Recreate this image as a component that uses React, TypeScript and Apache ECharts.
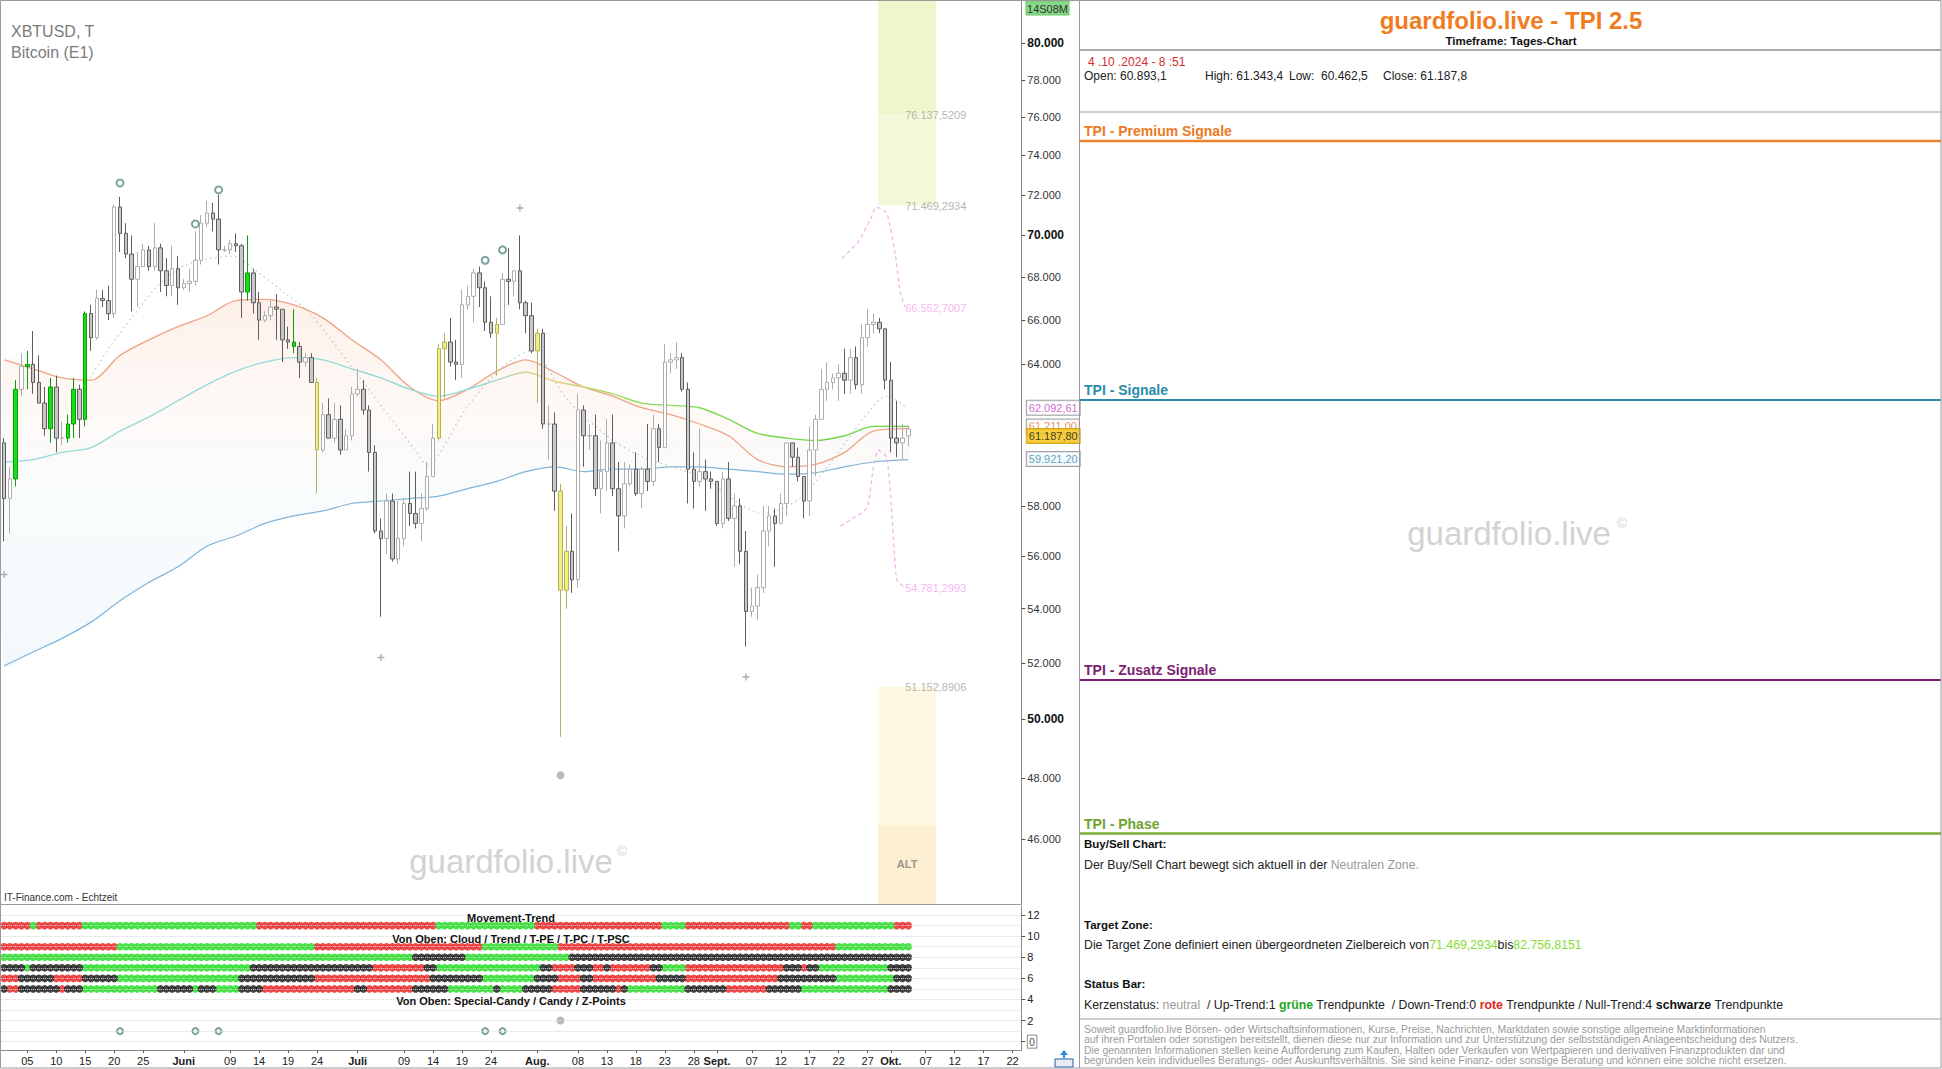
import React, { useEffect, useRef } from "react";
import * as echarts from "echarts";

const FONT = "'Liberation Sans', Arial, Helvetica, sans-serif";

// ---- Daily candles XBTUSD, 01.05.2024 (index 0) – 04.10.2024 (index 156), in thousand USD ----
const OPEN = [
  60.6, 58.3, 59.1, 62.9, 63.9, 64.0, 63.2, 62.3, 61.2, 63.0,
  60.8, 60.8, 61.4, 62.9, 61.6, 66.3, 65.2, 67.0, 66.9, 66.3,
  71.4, 70.1, 69.1, 67.9, 68.5, 69.3, 68.5, 69.4, 68.3, 67.6,
  68.4, 67.5, 67.7, 67.8, 68.8, 70.6, 71.1, 70.8, 69.3, 69.3,
  69.6, 69.5, 67.3, 68.2, 66.8, 66.0, 66.2, 66.6, 66.5, 65.1,
  65.0, 64.8, 64.1, 64.3, 63.2, 60.3, 61.8, 60.8, 61.6, 60.3,
  60.9, 62.7, 62.9, 62.0, 60.2, 57.0, 56.7, 58.2, 55.9, 56.7,
  58.1, 57.7, 57.3, 57.9, 59.2, 60.8, 64.7, 65.0, 64.1, 64.0,
  66.7, 67.1, 68.2, 67.5, 65.9, 65.4, 65.8, 67.9, 67.8, 68.3,
  66.8, 66.2, 64.6, 65.4, 61.4, 61.4, 58.6, 54.7, 56.2, 55.1,
  62.0, 60.9, 60.9, 58.7, 59.4, 60.6, 58.7, 57.6, 58.9, 59.5,
  58.5, 59.5, 59.0, 61.2, 60.4, 64.1, 64.2, 64.3, 62.9, 59.5,
  59.0, 59.4, 59.1, 59.0, 57.3, 59.1, 57.5, 58.0, 56.2, 53.9,
  54.1, 54.8, 57.0, 57.6, 57.3, 58.1, 60.6, 60.0, 59.2, 58.2,
  60.3, 61.6, 62.9, 63.2, 63.4, 63.6, 63.3, 64.3, 63.1, 65.2,
  65.8, 65.9, 65.6, 63.3, 60.8, 60.6, 60.893,
];
const CLOSE = [
  58.3, 59.1, 62.9, 63.9, 64.0, 63.2, 62.3, 61.2, 63.0, 60.8,
  60.8, 61.4, 62.9, 61.6, 66.3, 65.2, 67.0, 66.9, 66.3, 71.4,
  70.1, 69.1, 67.9, 68.5, 69.3, 68.5, 69.4, 68.3, 67.6, 68.4,
  67.5, 67.7, 67.8, 68.8, 70.6, 71.1, 70.8, 69.3, 69.3, 69.6,
  69.5, 67.3, 68.2, 66.8, 66.0, 66.2, 66.6, 66.5, 65.1, 65.0,
  64.8, 64.1, 64.3, 63.2, 60.3, 61.8, 60.8, 61.6, 60.3, 60.9,
  62.7, 62.9, 62.0, 60.2, 57.0, 56.7, 58.2, 55.9, 56.7, 58.1,
  57.7, 57.3, 57.9, 59.2, 60.8, 64.7, 65.0, 64.1, 64.0, 66.7,
  67.1, 68.2, 67.5, 65.9, 65.4, 65.8, 67.9, 67.8, 68.3, 66.8,
  66.2, 64.6, 65.4, 61.4, 61.4, 58.6, 54.7, 56.2, 55.1, 62.0,
  60.9, 60.9, 58.7, 59.4, 60.6, 58.7, 57.6, 58.9, 59.5, 58.5,
  59.5, 59.0, 61.2, 60.4, 64.1, 64.2, 64.3, 62.9, 59.5, 59.0,
  59.4, 59.1, 59.0, 57.3, 59.1, 57.5, 58.0, 56.2, 53.9, 54.1,
  54.8, 57.0, 57.6, 57.3, 58.1, 60.6, 60.0, 59.2, 58.2, 60.3,
  61.6, 62.9, 63.2, 63.4, 63.6, 63.3, 64.3, 63.1, 65.2, 65.8,
  65.9, 65.6, 63.3, 60.8, 60.6, 60.8, 61.188,
];
const HIGH = [
  60.8, 59.6, 63.3, 64.5, 64.6, 65.5, 64.4, 63.0, 63.4, 63.5,
  61.5, 61.8, 63.4, 63.1, 66.4, 66.7, 67.4, 67.4, 67.6, 71.5,
  71.9, 70.6, 70.0, 69.2, 69.6, 69.5, 70.6, 69.6, 68.9, 69.5,
  69.0, 67.9, 68.4, 70.2, 71.0, 71.7, 71.6, 72.0, 69.5, 69.8,
  70.1, 69.6, 70.0, 68.4, 67.3, 66.4, 66.9, 67.2, 66.5, 65.7,
  66.5, 65.0, 64.5, 64.5, 63.4, 62.3, 62.5, 62.3, 62.2, 61.2,
  63.0, 63.8, 63.3, 62.2, 60.5, 57.5, 58.5, 58.5, 58.2, 58.3,
  59.4, 59.4, 58.5, 59.8, 61.4, 64.9, 65.4, 66.1, 65.1, 67.4,
  67.6, 68.4, 68.5, 67.8, 67.1, 66.1, 68.2, 69.4, 68.3, 70.0,
  66.9, 66.8, 65.6, 65.6, 62.2, 61.9, 58.9, 57.2, 57.7, 62.7,
  62.2, 61.4, 61.8, 60.7, 61.6, 61.8, 59.8, 59.8, 59.7, 60.2,
  59.6, 61.4, 61.8, 61.4, 64.9, 64.5, 65.0, 64.5, 63.2, 60.2,
  61.2, 59.9, 59.4, 59.0, 59.4, 59.8, 58.5, 58.3, 57.0, 54.8,
  55.3, 58.0, 58.0, 57.9, 58.5, 60.6, 60.6, 60.4, 59.2, 61.3,
  61.8, 63.8, 64.1, 63.6, 64.0, 64.7, 64.7, 64.8, 65.8, 66.5,
  66.3, 66.1, 65.6, 64.1, 62.4, 61.4, 61.343,
];
const LOW = [
  56.6, 56.9, 58.8, 62.6, 62.9, 62.7, 62.3, 60.9, 60.6, 60.2,
  60.5, 60.6, 60.8, 60.8, 61.3, 64.6, 65.1, 66.6, 66.0, 66.1,
  69.2, 68.9, 66.4, 66.6, 68.5, 68.3, 68.3, 67.3, 67.1, 67.1,
  66.7, 67.4, 67.3, 67.6, 68.6, 70.4, 70.2, 68.6, 69.2, 69.1,
  69.2, 66.1, 66.9, 66.3, 65.1, 65.9, 66.0, 65.1, 64.1, 64.7,
  64.5, 63.4, 63.9, 63.2, 58.5, 60.2, 60.8, 60.6, 60.1, 60.3,
  60.7, 62.6, 61.8, 59.4, 56.9, 53.7, 56.1, 55.8, 55.7, 56.4,
  57.2, 57.1, 56.6, 57.8, 59.2, 60.7, 62.5, 63.9, 63.3, 63.4,
  66.5, 65.9, 66.6, 65.5, 65.2, 63.5, 65.8, 66.7, 67.1, 66.5,
  65.4, 64.5, 62.3, 61.2, 59.9, 57.8, 49.4, 54.0, 54.6, 54.8,
  59.6, 60.3, 58.4, 57.7, 58.6, 58.4, 56.2, 57.1, 58.8, 58.4,
  57.9, 58.6, 58.8, 59.8, 60.4, 63.6, 63.8, 62.8, 58.1, 57.9,
  58.8, 57.8, 58.7, 57.2, 57.1, 57.4, 55.6, 55.7, 52.6, 53.7,
  53.6, 54.6, 56.4, 55.6, 57.3, 57.6, 59.6, 59.0, 57.5, 57.6,
  59.2, 61.6, 62.4, 62.9, 62.4, 62.7, 62.7, 62.9, 62.7, 64.8,
  65.4, 65.4, 62.9, 60.2, 60.0, 59.9, 60.463,
];
const GREEN_DAYS = [2, 4, 8, 11, 12, 14, 42, 50];
const YELLOW_DAYS = [54, 75, 76, 85, 92, 96, 97];

// ---- Moving-average ribbon ----
const RIB_DAYS = [0, 5, 10, 15, 20, 25, 30, 35, 40, 45, 50, 55, 60, 65, 70, 75, 80, 85, 90, 95, 100, 105, 110, 115, 120, 125, 130, 135, 140, 145, 150, 156];
const RIB_FAST = [64.2, 63.8, 63.4, 63.3, 64.4, 65.1, 65.7, 66.2, 66.9, 66.96, 66.7, 66.1, 65.1, 64.2, 63.0, 62.4, 62.9, 63.7, 64.2, 63.65, 63.0, 62.6, 62.1, 61.8, 61.4, 60.9, 59.9, 59.6, 59.7, 60.2, 61.1, 61.2];
const RIB_MID = [59.8, 59.9, 60.2, 60.4, 61.1, 61.7, 62.4, 63.1, 63.7, 64.1, 64.3, 64.2, 63.8, 63.4, 62.9, 62.6, 62.9, 63.3, 63.65, 63.25, 63.0, 62.7, 62.3, 62.2, 62.1, 61.6, 61.0, 60.8, 60.7, 60.9, 61.3, 61.3];
const RIB_SLOW = [51.9, 52.4, 52.9, 53.5, 54.3, 55.0, 55.6, 56.4, 56.8, 57.3, 57.6, 57.8, 58.1, 58.2, 58.3, 58.4, 58.7, 59.0, 59.4, 59.6, 59.4, 59.5, 59.5, 59.6, 59.6, 59.5, 59.4, 59.3, 59.35, 59.6, 59.8, 59.9];

// gray dotted curve
const DOT_DAYS = [14.8, 18.3, 22.3, 26.9, 31.5, 39.5, 43, 48.2, 52.8, 62.6, 71.2, 72.9, 79.8, 85.6, 91, 97, 104.5, 110.3, 120, 131, 137.3, 143, 148.8, 152.3, 155.7];
const DOT_VALS = [63.4, 64.8, 66.2, 67.7, 68.6, 69.0, 68.4, 67.3, 66.3, 63.0, 60.2, 59.7, 62.1, 63.8, 64.6, 62.5, 60.8, 60.0, 59.2, 57.7, 58.3, 59.9, 61.8, 62.6, 62.1];

// pink projections
const PROJ_UP_DAYS = [144.6, 147.4, 149.5, 150.5, 152.3, 153.7, 154.6, 155.4];
const PROJ_UP_VALS = [68.9, 69.7, 70.8, 71.4, 71.1, 69.2, 67.3, 66.6];
const PROJ_DN_DAYS = [144.3, 148.8, 150.0, 150.8, 152.3, 153.1, 154.0, 155.4];
const PROJ_DN_VALS = [57.2, 57.9, 59.6, 60.3, 60.0, 57.9, 55.1, 54.8];

// markers on the price chart
const RING_DAYS = [20, 33, 37, 83, 86];
const RING_VALS = [72.6, 70.56, 72.25, 68.8, 69.3];
const CROSS_DAYS = [0, 65, 89, 128];
const CROSS_VALS = [55.3, 52.2, 71.35, 51.5];
const ZPOINT_DAYS = [96];
const ZPOINT_VALS = [48.1];

// target zones and level labels
const ZONE_TOP = 82.7568151;
const ZONE_MID = 76.1375209;
const ZONE_LOW = 71.4692934;
const ALT_TOP = 51.1528906;
const ALT_MID = 46.47;
const LEVEL_VALUES = [76.1375209, 71.4692934, 66.5527007, 54.7812993, 51.1528906];
const LEVEL_TEXTS = ["76.137,5209", "71.469,2934", "66.552,7007", "54.781,2993", "51.152,8906"];
const LEVEL_COLORS = ["#a2a2a2", "#a2a2a2", "#f2a4ea", "#f2a4ea", "#a2a2a2"];

// value boxes on the price axis
const BOX_VALUES = [62.09261, 61.211, 59.9212, 61.1878];
const BOX_TEXTS = ["62.092,61", "61.211,00", "59.921,20", "61.187,80"];

// axis ticks
const PRICE_TICKS = [80, 78, 76, 74, 72, 70, 68, 66, 64, 58, 56, 54, 52, 50, 48, 46];
const BOLD_TICKS = [80, 70, 50];
const X_TICK_DAYS = [4, 9, 14, 19, 24, 31, 39, 44, 49, 54, 61, 69, 74, 79, 84, 92, 99, 104, 109, 114, 119, 123, 129, 134, 139, 144, 149, 153, 159, 164, 169, 174];
const X_TICK_LABELS = ["05", "10", "15", "20", "25", "Juni", "09", "14", "19", "24", "Juli", "09", "14", "19", "24", "Aug.", "08", "13", "18", "23", "28", "Sept.", "07", "12", "17", "22", "27", "Okt.", "07", "12", "17", "22"];
const MONTH_LABELS = ["Juni", "Juli", "Aug.", "Sept.", "Okt."];
const IND_TICKS = [0, 2, 4, 6, 8, 10, 12];

// indicator rows (run lengths: r = red, g = green, k = black)
const ROW_MOVEMENT: [string, number][] = [["r", 5], ["g", 1], ["r", 8], ["g", 30], ["r", 31], ["g", 17], ["r", 22], ["g", 4], ["r", 18], ["g", 2], ["r", 2], ["g", 14], ["r", 3]];
const ROW_CLOUD: [string, number][] = [["r", 20], ["g", 34], ["r", 29], ["g", 13], ["r", 48], ["g", 13]];
const ROW_TREND: [string, number][] = [["g", 71], ["k", 9], ["g", 18], ["k", 59]];
const ROW_TPE: [string, number][] = [["k", 4], ["g", 1], ["k", 9], ["g", 29], ["k", 21], ["r", 9], ["k", 2], ["g", 18], ["k", 2], ["r", 4], ["k", 3], ["r", 2], ["k", 1], ["r", 7], ["k", 2], ["g", 4], ["r", 17], ["k", 3], ["r", 1], ["k", 2], ["g", 12], ["k", 4]];
const ROW_TPC: [string, number][] = [["r", 3], ["k", 6], ["r", 5], ["k", 6], ["g", 21], ["k", 13], ["r", 20], ["k", 9], ["g", 9], ["k", 4], ["r", 4], ["k", 2], ["r", 11], ["k", 5], ["r", 16], ["k", 10], ["g", 10], ["k", 3]];
const ROW_TPSC: [string, number][] = [["k", 1], ["r", 2], ["k", 7], ["r", 1], ["k", 3], ["g", 13], ["k", 6], ["g", 1], ["k", 3], ["g", 4], ["k", 4], ["r", 16], ["k", 2], ["r", 8], ["k", 6], ["g", 8], ["k", 1], ["g", 4], ["k", 5], ["r", 5], ["k", 6], ["r", 1], ["k", 1], ["g", 10], ["k", 7], ["r", 7], ["k", 6], ["g", 15], ["k", 4]];
const ROW_LEVELS = [11, 9, 8, 7, 6, 5];
const CANDY_DAYS = [20, 33, 37, 83, 86];
const ZP_IND_DAYS = [96];

// ---- layout constants ----
const L = (p: number) => Math.log(p);
const Y_MIN = L(43.98);
const Y_MAX = L(82.39);
const X_MIN = -0.5;
const X_MAX = 175.5;
const GRID_LEFT = 1.2;
const GRID_W = 1020.1;
const ZONE_X0 = 150.8;
const ZONE_X1 = 160.8;
const LEVEL_X = 155.37;
const BODY_FS = 12.3;

const GREEN_STYLE = { color: "#17df17", color0: "#17df17", borderColor: "#0b9b0b", borderColor0: "#0b9b0b", borderWidth: 1 };
const YELLOW_STYLE = { color: "#f3ef7e", color0: "#f3ef7e", borderColor: "#b3b05a", borderColor0: "#b3b05a", borderWidth: 1 };

function expandRows() {
  const out: Record<string, number[][]> = { r: [], g: [], k: [] };
  const rows = [ROW_MOVEMENT, ROW_CLOUD, ROW_TREND, ROW_TPE, ROW_TPC, ROW_TPSC];
  rows.forEach((row, ri) => {
    let d = 0;
    row.forEach(([c, n]) => {
      for (let i = 0; i < n; i++) {
        out[c].push([d, ROW_LEVELS[ri]]);
        d++;
      }
    });
  });
  return out;
}

function txt(x: number, y: number, text: string, st: any = {}, z = 50) {
  return {
    type: "text",
    x,
    y,
    z,
    silent: true,
    style: { text, fill: "#222", fontSize: 11, fontFamily: FONT, align: "left", verticalAlign: "middle", ...st },
  };
}
function hl(x1: number, y1: number, x2: number, y2: number, stroke: string, lineWidth = 1, z = 40) {
  return { type: "line", z, silent: true, shape: { x1, y1, x2, y2 }, style: { stroke, lineWidth } };
}

function buildGraphic() {
  const g: any[] = [];
  // frames
  g.push({ type: "rect", z: 60, silent: true, shape: { x: 0.5, y: 0.5, width: 1079, height: 1067.5 }, style: { fill: "none", stroke: "#9a9a9a", lineWidth: 1 } });
  g.push({ type: "rect", z: 60, silent: true, shape: { x: 1079.5, y: 0.5, width: 861.5, height: 1067.5 }, style: { fill: "none", stroke: "#9a9a9a", lineWidth: 1 } });
  g.push(hl(0, 904.5, 1022, 904.5, "#9a9a9a", 1));

  // left chart texts
  g.push(txt(11, 31, "XBTUSD, T", { fill: "#7b7b7b", fontSize: 16 }));
  g.push(txt(11, 52, "Bitcoin (E1)", { fill: "#7b7b7b", fontSize: 16 }));
  g.push(txt(4, 897, "IT-Finance.com - Echtzeit", { fill: "#333", fontSize: 10 }));
  g.push(txt(511, 861, "guardfolio.live", { fill: "#d3d3d3", fontSize: 33, align: "center" }, 5));
  g.push(txt(622, 851, "©", { fill: "#d3d3d3", fontSize: 14, align: "center" }, 5));
  g.push(txt(511, 917.7, "Movement-Trend", { fill: "#111", fontWeight: "bold", align: "center" }));
  g.push(txt(511, 939, "Von Oben: Cloud / Trend / T-PE / T-PC / T-PSC", { fill: "#111", fontWeight: "bold", align: "center" }));
  g.push(txt(511, 1001, "Von Oben: Special-Candy / Candy / Z-Points", { fill: "#111", fontWeight: "bold", align: "center" }));

  // 14S08M box
  g.push({ type: "rect", z: 55, silent: true, shape: { x: 1026, y: 1, width: 43, height: 14 }, style: { fill: "#86d986", stroke: "#6cc46c", lineWidth: 1 } });
  g.push(txt(1047.5, 8.5, "14S08M", { fill: "#333", fontSize: 11, align: "center" }, 56));

  // little icon bottom right of the chart
  g.push({ type: "rect", z: 55, silent: true, shape: { x: 1055, y: 1059, width: 18, height: 8 }, style: { fill: "#e8eef8", stroke: "#1f5fa5", lineWidth: 1 } });
  g.push({ type: "polygon", z: 55, silent: true, shape: { points: [[1064, 1050], [1060, 1055], [1063, 1055], [1063, 1058], [1065, 1058], [1065, 1055], [1068, 1055]] }, style: { fill: "#2a8ad8" } });

  // right panel
  g.push(txt(1511, 20, "guardfolio.live - TPI 2.5", { fill: "#f07c22", fontSize: 24, fontWeight: "bold", align: "center" }));
  g.push(txt(1511, 41, "Timeframe: Tages-Chart", { fill: "#111", fontSize: 11.5, fontWeight: "bold", align: "center" }));
  g.push(hl(1080, 50, 1941, 50, "#a9a9a9", 2));
  g.push(txt(1088, 61.5, "4 .10 .2024 - 8 :51", { fill: "#d42b2b", fontSize: 12 }));
  g.push(txt(1084, 76, "Open: 60.893,1", { fill: "#222", fontSize: 12 }));
  g.push(txt(1205, 76, "High: 61.343,4", { fill: "#222", fontSize: 12 }));
  g.push(txt(1289, 76, "Low:  60.462,5", { fill: "#222", fontSize: 12 }));
  g.push(txt(1383, 76, "Close: 61.187,8", { fill: "#222", fontSize: 12 }));
  g.push(hl(1080, 112, 1941, 112, "#bdbdbd", 1.5));

  g.push(txt(1084, 130.5, "TPI - Premium Signale", { fill: "#ec7a22", fontSize: 14, fontWeight: "bold" }));
  g.push(hl(1080, 141, 1941, 141, "#ee8229", 2.5));
  g.push(txt(1084, 390, "TPI - Signale", { fill: "#2a8ca8", fontSize: 14, fontWeight: "bold" }));
  g.push(hl(1080, 400, 1941, 400, "#2a8ca8", 2));
  g.push(txt(1084, 670, "TPI - Zusatz Signale", { fill: "#7b1f70", fontSize: 14, fontWeight: "bold" }));
  g.push(hl(1080, 680, 1941, 680, "#7b1f70", 2));
  g.push(txt(1084, 823.5, "TPI - Phase", { fill: "#6fa32c", fontSize: 14, fontWeight: "bold" }));
  g.push(hl(1080, 833.5, 1941, 833.5, "#79ad36", 2.5));

  g.push(txt(1509, 533, "guardfolio.live", { fill: "#d3d3d3", fontSize: 33, align: "center" }, 5));
  g.push(txt(1622, 523, "©", { fill: "#d3d3d3", fontSize: 14, align: "center" }, 5));

  g.push(txt(1084, 843.5, "Buy/Sell Chart:", { fill: "#111", fontSize: 11.5, fontWeight: "bold" }));
  g.push(
    txt(1084, 864.5, "{n|Der Buy/Sell Chart bewegt sich aktuell in der }{gr|Neutralen Zone.}", {
      fontSize: BODY_FS,
      rich: {
        n: { fill: "#222", fontSize: BODY_FS, fontFamily: FONT },
        gr: { fill: "#9a9a9a", fontSize: BODY_FS, fontFamily: FONT },
      },
    })
  );
  g.push(txt(1084, 925, "Target Zone:", { fill: "#111", fontSize: 11.5, fontWeight: "bold" }));
  g.push(
    txt(1084, 944.5, "{n|Die Target Zone definiert einen übergeordneten Zielbereich von}{g|71.469,2934}{n|bis}{g|82.756,8151}", {
      fontSize: BODY_FS,
      rich: {
        n: { fill: "#222", fontSize: BODY_FS, fontFamily: FONT },
        g: { fill: "#86dc34", fontSize: BODY_FS, fontFamily: FONT },
      },
    })
  );
  g.push(txt(1084, 983.5, "Status Bar:", { fill: "#111", fontSize: 11.5, fontWeight: "bold" }));
  g.push(
    txt(
      1084,
      1004.5,
      "{n|Kerzenstatus: }{gr|neutral}{n|  / Up-Trend:1 }{g|grüne}{n| Trendpunkte  / Down-Trend:0 }{r|rote}{n| Trendpunkte / Null-Trend:4 }{k|schwarze}{n| Trendpunkte}",
      {
        fontSize: BODY_FS,
        rich: {
          n: { fill: "#222", fontSize: BODY_FS, fontFamily: FONT },
          gr: { fill: "#9a9a9a", fontSize: BODY_FS, fontFamily: FONT },
          g: { fill: "#1fa51f", fontSize: BODY_FS, fontWeight: "bold", fontFamily: FONT },
          r: { fill: "#e02222", fontSize: BODY_FS, fontWeight: "bold", fontFamily: FONT },
          k: { fill: "#111", fontSize: BODY_FS, fontWeight: "bold", fontFamily: FONT },
        },
      }
    )
  );
  g.push(hl(1080, 1019, 1941, 1019, "#bdbdbd", 1.5));
  const disc = [
    "Soweit guardfolio.live Börsen- oder Wirtschaftsinformationen, Kurse, Preise, Nachrichten, Marktdaten sowie sonstige allgemeine Marktinformationen",
    "auf ihren Portalen oder sonstigen bereitstellt, dienen diese nur zur Information und zur Unterstützung der selbstständigen Anlageentscheidung des Nutzers.",
    "Die genannten Informationen stellen keine Aufforderung zum Kaufen, Halten oder Verkaufen von Wertpapieren und derivativen Finanzprodukten dar und",
    "begründen kein individuelles Beratungs- oder Auskunftsverhältnis. Sie sind keine Finanz- oder sonstige Beratung und können eine solche nicht ersetzen.",
  ];
  const discY = [1029.5, 1039.8, 1050, 1060.3];
  disc.forEach((t, i) => g.push(txt(1084, discY[i], t, { fill: "#9a9a9a", fontSize: 10.4 })));
  return g;
}

function buildOption() {
  const candleData = CLOSE.map((c, i) => {
    const item: any = { value: [i, L(OPEN[i]), L(c), L(LOW[i]), L(HIGH[i])] };
    if (GREEN_DAYS.includes(i)) item.itemStyle = GREEN_STYLE;
    else if (YELLOW_DAYS.includes(i)) item.itemStyle = YELLOW_STYLE;
    return item;
  });
  const dots = expandRows();

  const ribbonFill = new echarts.graphic.LinearGradient(0, 0, 0, 1, [
    { offset: 0, color: "rgba(252,226,212,0.55)" },
    { offset: 0.3, color: "rgba(252,240,234,0.4)" },
    { offset: 0.55, color: "rgba(238,247,248,0.4)" },
    { offset: 1, color: "rgba(226,238,248,0.4)" },
  ]);
  const midColor = new echarts.graphic.LinearGradient(0, 0, 1, 0, [
    { offset: 0, color: "#95dada" },
    { offset: 0.53, color: "#95dada" },
    { offset: 0.6, color: "#efcf7a" },
    { offset: 0.7, color: "#8ddc5a" },
    { offset: 1, color: "#62d642" },
  ]);

  const priceAxisLabels = PRICE_TICKS.map(L);

  return {
    animation: false,
    backgroundColor: "#ffffff",
    textStyle: { fontFamily: FONT },
    grid: [
      { left: GRID_LEFT, top: 1, width: GRID_W, height: 903 },
      { left: GRID_LEFT, top: 906, width: GRID_W, height: 144 },
    ],
    xAxis: [
      { gridIndex: 0, type: "value", min: X_MIN, max: X_MAX, show: false },
      {
        gridIndex: 1,
        type: "value",
        min: X_MIN,
        max: X_MAX,
        position: "bottom",
        axisLine: { show: true, onZero: false, lineStyle: { color: "#8a8a8a" } },
        axisTick: { show: true, customValues: X_TICK_DAYS, length: 3, lineStyle: { color: "#555" } },
        axisLabel: {
          show: true,
          customValues: X_TICK_DAYS,
          margin: 5,
          fontSize: 11,
          color: "#222",
          fontFamily: FONT,
          formatter: (v: number) => {
            const idx = X_TICK_DAYS.indexOf(Math.round(v));
            const t = idx >= 0 ? X_TICK_LABELS[idx] : "";
            return MONTH_LABELS.includes(t) ? `{m|${t}}` : t;
          },
          rich: { m: { fontWeight: "bold", fontSize: 11, color: "#222", fontFamily: FONT } },
        },
        splitLine: { show: false },
      },
    ],
    yAxis: [
      {
        gridIndex: 0,
        type: "value",
        min: Y_MIN,
        max: Y_MAX,
        position: "right",
        axisLine: { show: true, onZero: false, lineStyle: { color: "#8a8a8a" } },
        axisTick: { show: true, customValues: priceAxisLabels, length: 4, lineStyle: { color: "#555" } },
        axisLabel: {
          show: true,
          customValues: priceAxisLabels,
          margin: 6,
          formatter: (v: number) => {
            const p = Math.round(Math.exp(v));
            const s = `${p}.000`;
            return BOLD_TICKS.includes(p) ? `{b|${s}}` : `{n|${s}}`;
          },
          rich: {
            b: { fontWeight: "bold", fontSize: 12, color: "#111", fontFamily: FONT },
            n: { fontSize: 11, color: "#333", fontFamily: FONT },
          },
        },
        splitLine: { show: false },
      },
      {
        gridIndex: 1,
        type: "value",
        min: -0.79,
        max: 12.86,
        position: "right",
        axisLine: { show: true, onZero: false, lineStyle: { color: "#8a8a8a" } },
        axisTick: { show: true, customValues: IND_TICKS, length: 4, lineStyle: { color: "#555" } },
        axisLabel: {
          show: true,
          customValues: IND_TICKS,
          margin: 6,
          fontSize: 11,
          color: "#222",
          formatter: (v: number) => (Math.round(v) === 0 ? "{bx|0}" : String(Math.round(v))),
          rich: { bx: { borderColor: "#8a8a8a", borderWidth: 1, padding: [2, 2, 1, 2], color: "#444", fontSize: 10 } },
        },
        splitLine: { show: false },
      },
    ],
    series: [
      // ribbon fill
      {
        type: "custom",
        name: "ribbon",
        xAxisIndex: 0,
        yAxisIndex: 0,
        z: 1,
        silent: true,
        data: [[78, L(60)]],
        renderItem: (_params: any, api: any) => {
          const upper = RIB_DAYS.map((d, i) => api.coord([d, L(Math.max(RIB_FAST[i], RIB_MID[i]))]));
          const lower = RIB_DAYS.map((d, i) => api.coord([d, L(RIB_SLOW[i])])).reverse();
          return {
            type: "polygon",
            shape: { points: upper.concat(lower), smooth: 0.25 },
            style: { fill: ribbonFill },
          };
        },
      },
      {
        type: "line",
        name: "fast",
        xAxisIndex: 0,
        yAxisIndex: 0,
        z: 2,
        silent: true,
        showSymbol: false,
        smooth: 0.3,
        data: RIB_DAYS.map((d, i) => [d, L(RIB_FAST[i])]),
        lineStyle: { color: "#eea384", width: 1.3 },
      },
      {
        type: "line",
        name: "mid",
        xAxisIndex: 0,
        yAxisIndex: 0,
        z: 2,
        silent: true,
        showSymbol: false,
        smooth: 0.3,
        data: RIB_DAYS.map((d, i) => [d, L(RIB_MID[i])]),
        lineStyle: { color: midColor, width: 1.4 },
      },
      {
        type: "line",
        name: "slow",
        xAxisIndex: 0,
        yAxisIndex: 0,
        z: 2,
        silent: true,
        showSymbol: false,
        smooth: 0.3,
        data: RIB_DAYS.map((d, i) => [d, L(RIB_SLOW[i])]),
        lineStyle: { color: "#82b4d8", width: 1.2 },
      },
      {
        type: "line",
        name: "dotted",
        xAxisIndex: 0,
        yAxisIndex: 0,
        z: 2,
        silent: true,
        showSymbol: false,
        smooth: 0.3,
        data: DOT_DAYS.map((d, i) => [d, L(DOT_VALS[i])]),
        lineStyle: { color: "#c2c2c2", width: 1.2, type: [1.5, 3.5] },
      },
      {
        type: "line",
        name: "projUp",
        xAxisIndex: 0,
        yAxisIndex: 0,
        z: 2,
        silent: true,
        showSymbol: false,
        smooth: 0.15,
        data: PROJ_UP_DAYS.map((d, i) => [d, L(PROJ_UP_VALS[i])]),
        lineStyle: { color: "#f5b4ee", width: 1.3, type: [4, 3] },
      },
      {
        type: "line",
        name: "projDown",
        xAxisIndex: 0,
        yAxisIndex: 0,
        z: 2,
        silent: true,
        showSymbol: false,
        smooth: 0.15,
        data: PROJ_DN_DAYS.map((d, i) => [d, L(PROJ_DN_VALS[i])]),
        lineStyle: { color: "#f5b4ee", width: 1.3, type: [4, 3] },
      },
      // candles
      {
        type: "candlestick",
        name: "XBTUSD",
        xAxisIndex: 0,
        yAxisIndex: 0,
        z: 3,
        silent: true,
        barWidth: 4,
        data: candleData,
        itemStyle: { color: "#ffffff", color0: "#c8c8c8", borderColor: "#adadad", borderColor0: "#5e5e5e", borderWidth: 1 },
        markArea: {
          silent: true,
          label: { show: false },
          data: [
            [{ xAxis: ZONE_X0, yAxis: L(ZONE_MID), itemStyle: { color: "#eef7cb" } }, { xAxis: ZONE_X1, yAxis: Math.min(L(ZONE_TOP), Y_MAX) }],
            [{ xAxis: ZONE_X0, yAxis: L(ZONE_LOW), itemStyle: { color: "#f3f9d8" } }, { xAxis: ZONE_X1, yAxis: L(ZONE_MID) }],
            [{ xAxis: ZONE_X0, yAxis: L(ALT_TOP), itemStyle: { color: "#fff7e2" } }, { xAxis: ZONE_X1, yAxis: L(ALT_MID) }],
            [
              {
                xAxis: ZONE_X0,
                yAxis: L(ALT_MID),
                itemStyle: { color: "#fdefd2" },
                label: { show: true, position: "inside", formatter: "ALT", color: "#9c968c", fontWeight: "bold", fontSize: 11, fontFamily: FONT },
              },
              { xAxis: ZONE_X1, yAxis: Y_MIN },
            ],
          ],
        },
      },
      // rings
      {
        type: "scatter",
        name: "rings",
        xAxisIndex: 0,
        yAxisIndex: 0,
        z: 5,
        silent: true,
        symbol: "emptyCircle",
        symbolSize: 7,
        itemStyle: { color: "#5b8c86", borderColor: "#5b8c86", borderWidth: 2 },
        data: RING_DAYS.map((d, i) => [d, L(RING_VALS[i])]),
      },
      {
        type: "scatter",
        name: "crosses",
        xAxisIndex: 0,
        yAxisIndex: 0,
        z: 5,
        silent: true,
        symbol: "path://M4,0H6V4H10V6H6V10H4V6H0V4H4Z",
        symbolSize: 7,
        itemStyle: { color: "#9a9a9a" },
        data: CROSS_DAYS.map((d, i) => [d, L(CROSS_VALS[i])]),
      },
      {
        type: "scatter",
        name: "zpoint",
        xAxisIndex: 0,
        yAxisIndex: 0,
        z: 5,
        silent: true,
        symbol: "circle",
        symbolSize: 8,
        itemStyle: { color: "#a8a8a8" },
        data: ZPOINT_DAYS.map((d, i) => [d, L(ZPOINT_VALS[i])]),
      },
      // level labels
      {
        type: "scatter",
        name: "levels",
        xAxisIndex: 0,
        yAxisIndex: 0,
        z: 6,
        silent: true,
        clip: false,
        symbolSize: 1,
        itemStyle: { color: "rgba(0,0,0,0)" },
        data: LEVEL_VALUES.map((v, i) => ({
          value: [LEVEL_X, L(v)],
          label: { show: true, position: "right", distance: 0, formatter: LEVEL_TEXTS[i], color: LEVEL_COLORS[i], fontSize: 11, fontFamily: FONT },
        })),
      },
      // axis value boxes
      {
        type: "scatter",
        name: "boxes",
        xAxisIndex: 0,
        yAxisIndex: 0,
        z: 7,
        silent: true,
        clip: false,
        symbolSize: 1,
        itemStyle: { color: "rgba(0,0,0,0)" },
        data: BOX_VALUES.map((v, i) => {
          const styles = [
            { color: "#c23cc2", backgroundColor: "#ffffff", borderColor: "#8a8a8a" },
            { color: "#e0762e", backgroundColor: "#ffffff", borderColor: "#8a8a8a", offset: [0, -2] },
            { color: "#2c8db0", backgroundColor: "#f6fafc", borderColor: "#8a8a8a" },
            { color: "#111111", backgroundColor: "#f5c211", borderColor: "#c79a00", offset: [0, 7] },
          ];
          return {
            value: [X_MAX, L(v)],
            label: {
              show: true,
              position: "right",
              distance: 5,
              formatter: BOX_TEXTS[i],
              fontSize: 11,
              fontFamily: FONT,
              borderWidth: 1,
              padding: [2, 2, 1, 2],
              ...styles[i],
            },
          };
        }),
      },
      // indicator panel grid lines
      {
        type: "scatter",
        name: "indGrid",
        xAxisIndex: 1,
        yAxisIndex: 1,
        z: 1,
        silent: true,
        symbolSize: 0,
        data: [[-10, -10]],
        markLine: {
          silent: true,
          symbol: ["none", "none"],
          label: { show: false },
          lineStyle: { color: "#d8d8d8", type: "dotted", width: 1 },
          data: [0, 1, 2, 3, 4, 5, 6, 7, 8, 9, 10, 11, 12].map((v) => ({ yAxis: v })),
        },
      },
      {
        type: "scatter",
        name: "red dots",
        xAxisIndex: 1,
        yAxisIndex: 1,
        z: 3,
        silent: true,
        symbolSize: 7.6,
        itemStyle: { color: "#ea1b1b" },
        data: dots.r,
      },
      {
        type: "scatter",
        name: "green dots",
        xAxisIndex: 1,
        yAxisIndex: 1,
        z: 3,
        silent: true,
        symbolSize: 7.6,
        itemStyle: { color: "#1bdc1b" },
        data: dots.g,
      },
      {
        type: "scatter",
        name: "black dots",
        xAxisIndex: 1,
        yAxisIndex: 1,
        z: 3,
        silent: true,
        symbolSize: 7.6,
        itemStyle: { color: "#111111" },
        data: dots.k,
      },
      {
        type: "scatter",
        name: "candy",
        xAxisIndex: 1,
        yAxisIndex: 1,
        z: 3,
        silent: true,
        symbol: "emptyCircle",
        symbolSize: 6,
        itemStyle: { color: "#5b8c86", borderColor: "#5b8c86", borderWidth: 1.6 },
        data: CANDY_DAYS.map((d) => [d, 1]),
      },
      {
        type: "scatter",
        name: "zpoints",
        xAxisIndex: 1,
        yAxisIndex: 1,
        z: 3,
        silent: true,
        symbol: "circle",
        symbolSize: 8,
        itemStyle: { color: "#a8a8a8" },
        data: ZP_IND_DAYS.map((d) => [d, 2]),
      },
    ],
    graphic: buildGraphic(),
  };
}

export default function App() {
  const ref = useRef<HTMLDivElement>(null);
  useEffect(() => {
    if (!ref.current) return;
    const chart = echarts.init(ref.current, null, { renderer: "svg" });
    chart.setOption(buildOption() as any);
    return () => chart.dispose();
  }, []);
  return (
    <div
      ref={ref}
      style={{ position: "fixed", left: 0, top: 0, width: 1942, height: 1069, background: "#ffffff" }}
    />
  );
}
